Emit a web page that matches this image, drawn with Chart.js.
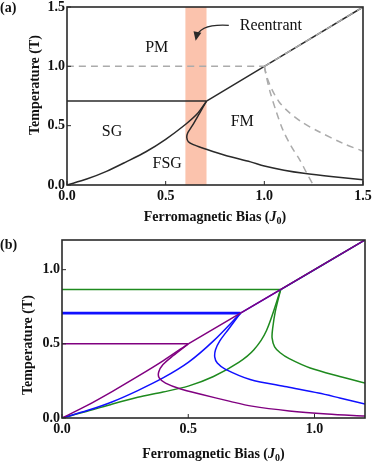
<!DOCTYPE html>
<html>
<head>
<meta charset="utf-8">
<script src="https://cdn.jsdelivr.net/npm/chart.js@4.4.1/dist/chart.umd.min.js"></script>
<style>
  body { margin: 0; background: #fff; width: 375px; height: 463px; overflow: hidden; position: relative; }
  canvas { position: absolute; left: 0; }
  #chartA { top: 0; }
  #chartB { top: 230px; }
</style>
</head>
<body>
<canvas id="chartA" width="375" height="230"></canvas>
<canvas id="chartB" width="375" height="233"></canvas>
<script>
// ---- panel (a) data: [J0, T] pairs ----
var ticksA = [0, 0.5, 1.0, 1.5];
var bandA = [0.6, 0.707];
var sgLineA = [[0, 0.707], [0.707, 0.707]];
var fsgLineA = [[0, 0], [0.1, 0.05], [0.2, 0.115], [0.3, 0.195], [0.4, 0.28], [0.5, 0.385], [0.6, 0.51], [0.66, 0.6], [0.707, 0.707]];
var reentrantA = [[0.707, 0.707], [0.67, 0.6], [0.635, 0.5], [0.612, 0.44], [0.607, 0.4], [0.615, 0.365], [0.64, 0.34], [0.69, 0.31], [0.8, 0.25], [0.93, 0.195], [1.0, 0.16], [1.1, 0.125], [1.2, 0.099], [1.35, 0.07], [1.5, 0.045]];
var diagA = [[0.707, 0.707], [1.5, 1.5]];
var pmDashA = [[0, 1], [1, 1]];
var diagDashA = [[1, 1], [1.5, 1.5]];
var dash1A = [[1, 1], [1.012, 0.9], [1.03, 0.78], [1.06, 0.62], [1.095, 0.46], [1.135, 0.33], [1.18, 0.21], [1.215, 0.1], [1.248, 0]];
var dash2A = [[1, 1], [1.015, 0.9], [1.04, 0.8], [1.075, 0.7], [1.12, 0.62], [1.19, 0.53], [1.27, 0.455], [1.4, 0.35], [1.5, 0.285]];

// ---- panel (b) data ----
var ticksB = [0, 0.5, 1.0];
var sgPurpleB = [[0, 0.5], [0.5, 0.5]];
var sgBlueB = [[0, 0.707], [0.707, 0.707]];
var sgGreenB = [[0, 0.866], [0.866, 0.866]];
var diagPurpleB = [[0.5, 0.5], [1.2, 1.2]];
var diagBlueB = [[0.707, 0.707], [1.2, 1.2]];
var diagGreenB = [[0.866, 0.866], [1.2, 1.2]];
var fsgPurpleB = [[0, 0], [0.1, 0.085], [0.2, 0.18], [0.3, 0.28], [0.4, 0.385], [0.5, 0.5]];
var fsgBlueB = [[0, 0], [0.1, 0.05], [0.2, 0.11], [0.3, 0.185], [0.4, 0.27], [0.5, 0.375], [0.6, 0.52], [0.707, 0.707]];
var fsgGreenB = [[0, 0], [0.1, 0.045], [0.2, 0.095], [0.3, 0.14], [0.4, 0.175], [0.5, 0.215], [0.6, 0.28], [0.7, 0.375], [0.76, 0.46], [0.81, 0.59], [0.866, 0.866]];
var rePurpleB = [[0.5, 0.5], [0.44, 0.42], [0.4, 0.36], [0.383, 0.31], [0.385, 0.27], [0.41, 0.235], [0.47, 0.195], [0.55, 0.16], [0.666, 0.112], [0.752, 0.08], [0.9, 0.048], [1.05, 0.027], [1.2, 0.013]];
var reBlueB = [[0.707, 0.707], [0.66, 0.6], [0.625, 0.52], [0.608, 0.46], [0.605, 0.41], [0.615, 0.37], [0.646, 0.33], [0.745, 0.26], [0.89, 0.21], [1.016, 0.168], [1.1, 0.135], [1.2, 0.095]];
var reGreenB = [[0.866, 0.866], [0.845, 0.72], [0.834, 0.6], [0.832, 0.54], [0.842, 0.48], [0.864, 0.44], [0.9, 0.4], [0.983, 0.337], [1.1, 0.28], [1.2, 0.236]];

var SERIF = "'Liberation Serif', 'Times New Roman', serif";
var DARK = "#2a2a2a";
var GREY = "#ababab";
var PURPLE = "#800080";
var BLUE = "#1010ff";
var GREEN = "#1e8a1e";

function line(points, color, width, dash) {
	return {
		data: points.map(function (p) { return { x: p[0], y: p[1] }; }),
		showLine: true,
		borderColor: color,
		borderWidth: width,
		borderDash: dash || [],
		pointRadius: 0,
		tension: 0.3,
		fill: false,
	};
}

// frame, inner ticks, labels, axis titles, band and arrow
var deco = {
	id: "deco",
	beforeDatasetsDraw: function (chart, args, o) {
		if (!o.band) return;
		var ctx = chart.ctx, a = chart.chartArea, x = chart.scales.x;
		var x0 = x.getPixelForValue(o.band[0]), x1 = x.getPixelForValue(o.band[1]);
		ctx.save();
		ctx.fillStyle = o.bandColor;
		ctx.fillRect(x0, a.top, x1 - x0, a.bottom - a.top);
		ctx.restore();
	},
	afterDatasetsDraw: function (chart, args, o) {
		var ctx = chart.ctx, a = chart.chartArea, x = chart.scales.x, y = chart.scales.y;
		ctx.save();
		ctx.strokeStyle = DARK;
		ctx.lineWidth = 1.6;
		ctx.strokeRect(a.left, a.top, a.right - a.left, a.bottom - a.top);
		ctx.lineWidth = 1;
		ctx.beginPath();
		o.ticks.forEach(function (v) {
			var px = x.getPixelForValue(v), py = y.getPixelForValue(v);
			ctx.moveTo(px, a.bottom); ctx.lineTo(px, a.bottom - 4);
			ctx.moveTo(a.left, py); ctx.lineTo(a.left + 4, py);
		});
		ctx.stroke();

		// region labels
		ctx.fillStyle = "#111";
		ctx.font = "16px " + SERIF;
		ctx.textAlign = "center";
		ctx.textBaseline = "middle";
		(o.labels || []).forEach(function (l) {
			ctx.fillText(l[0], x.getPixelForValue(l[1]), y.getPixelForValue(l[2]));
		});

		// arrow
		if (o.arrow) {
			var p = o.arrow.map(function (q) { return [x.getPixelForValue(q[0]), y.getPixelForValue(q[1])]; });
			ctx.strokeStyle = DARK;
			ctx.lineWidth = 1.3;
			ctx.beginPath();
			ctx.moveTo(p[0][0], p[0][1]);
			ctx.quadraticCurveTo(p[1][0], p[1][1], p[2][0], p[2][1]);
			ctx.stroke();
			var ang = Math.atan2(p[2][1] - p[1][1], p[2][0] - p[1][0]);
			ctx.fillStyle = DARK;
			ctx.beginPath();
			ctx.moveTo(p[2][0] + 3 * Math.cos(ang), p[2][1] + 3 * Math.sin(ang));
			ctx.lineTo(p[2][0] - 6 * Math.cos(ang) + 4 * Math.sin(ang), p[2][1] - 6 * Math.sin(ang) - 4 * Math.cos(ang));
			ctx.lineTo(p[2][0] - 6 * Math.cos(ang) - 4 * Math.sin(ang), p[2][1] - 6 * Math.sin(ang) + 4 * Math.cos(ang));
			ctx.closePath();
			ctx.fill();
		}

		// panel label
		ctx.fillStyle = "#111";
		ctx.font = "bold 14px " + SERIF;
		ctx.textAlign = "left";
		ctx.fillText(o.panel, 0, o.panelY);

		// x title with italic J and subscript 0
		var parts = [
			["Ferromagnetic Bias (", "bold 14px " + SERIF, 0],
			["J", "italic bold 14px " + SERIF, 0],
			["0", "bold 10px " + SERIF, 4],
			[")", "bold 14px " + SERIF, 0],
		];
		var total = 0;
		parts.forEach(function (q) { ctx.font = q[1]; total += ctx.measureText(q[0]).width; });
		var cx = (a.left + a.right) / 2 - total / 2;
		parts.forEach(function (q) {
			ctx.font = q[1];
			ctx.fillText(q[0], cx, o.xTitleY + q[2]);
			cx += ctx.measureText(q[0]).width;
		});

		// y title
		ctx.translate(o.yTitle[0], o.yTitle[1]);
		ctx.rotate(-Math.PI / 2);
		ctx.font = "bold 14px " + SERIF;
		ctx.textAlign = "center";
		ctx.fillText("Temperature (T)", 0, 0);
		ctx.restore();
	},
};

function scales(max, ticks, yWidth, xHeight) {
	var tickFont = { family: SERIF, size: 14, weight: "bold" };
	return {
		x: {
			type: "linear", min: 0, max: max,
			afterBuildTicks: function (s) { s.ticks = ticks.map(function (v) { return { value: v }; }); },
			afterFit: function (s) { s.height = xHeight; s.paddingLeft = 0; s.paddingRight = 0; },
			grid: { display: false, drawTicks: false },
			border: { display: false },
			ticks: { font: tickFont, color: "#111", padding: 3, maxRotation: 0, autoSkip: false,
				callback: function (v) { return v.toFixed(1); } },
		},
		y: {
			type: "linear", min: 0, max: max,
			afterBuildTicks: function (s) { s.ticks = ticks.map(function (v) { return { value: v }; }); },
			afterFit: function (s) { s.width = yWidth; s.paddingTop = 0; s.paddingBottom = 0; },
			grid: { display: false, drawTicks: false },
			border: { display: false },
			ticks: { font: tickFont, color: "#111", padding: 2, autoSkip: false,
				callback: function (v) { return v.toFixed(1); } },
		},
	};
}

new Chart(document.getElementById("chartA"), {
	type: "scatter",
	data: {
		datasets: [
			line(diagDashA, GREY, 1.5, [7, 5]),
			line(pmDashA, GREY, 1.5, [7, 5]),
			line(dash1A, GREY, 1.5, [7, 5]),
			line(dash2A, GREY, 1.5, [7, 5]),
			line(diagA, DARK, 1.5),
			line(sgLineA, DARK, 1.5),
			line(fsgLineA, DARK, 1.5),
			line(reentrantA, DARK, 1.5),
		],
	},
	options: {
		responsive: false,
		animation: false,
		layout: { padding: { top: 7, right: 12, left: 0, bottom: 0 } },
		scales: scales(1.5, ticksA, 67, 45),
		plugins: {
			legend: { display: false },
			tooltip: { enabled: false },
			deco: {
				band: bandA, bandColor: "#fbc3ad", ticks: ticksA,
				labels: [["PM", 0.455, 1.16], ["SG", 0.228, 0.447], ["FSG", 0.508, 0.178], ["FM", 0.888, 0.533], ["Reentrant", 1.033, 1.34]],
				arrow: [[0.82, 1.345], [0.67, 1.36], [0.655, 1.24]],
				panel: "(a)", panelY: 8, xTitleY: 217, yTitle: [35, 85],
			},
		},
	},
	plugins: [deco],
});

new Chart(document.getElementById("chartB"), {
	type: "scatter",
	data: {
		datasets: [
			line(diagPurpleB, PURPLE, 1.5),
			line(sgPurpleB, PURPLE, 1.5),
			line(fsgPurpleB, PURPLE, 1.5),
			line(rePurpleB, PURPLE, 1.5),
			line(diagBlueB, BLUE, 1.5),
			line(sgBlueB, BLUE, 2.6),
			line(fsgBlueB, BLUE, 1.5),
			line(reBlueB, BLUE, 1.5),
			line(diagGreenB, GREEN, 1.5),
			line(sgGreenB, GREEN, 1.5),
			line(fsgGreenB, GREEN, 1.5),
			line(reGreenB, GREEN, 1.5),
		],
	},
	options: {
		responsive: false,
		animation: false,
		layout: { padding: { top: 10, right: 10, left: 0, bottom: 0 } },
		scales: scales(1.2, ticksB, 62, 45),
		plugins: {
			legend: { display: false },
			tooltip: { enabled: false },
			deco: { ticks: ticksB, panel: "(b)", panelY: 15, xTitleY: 224, yTitle: [28, 115] },
		},
	},
	plugins: [deco],
});
</script>
</body>
</html>
